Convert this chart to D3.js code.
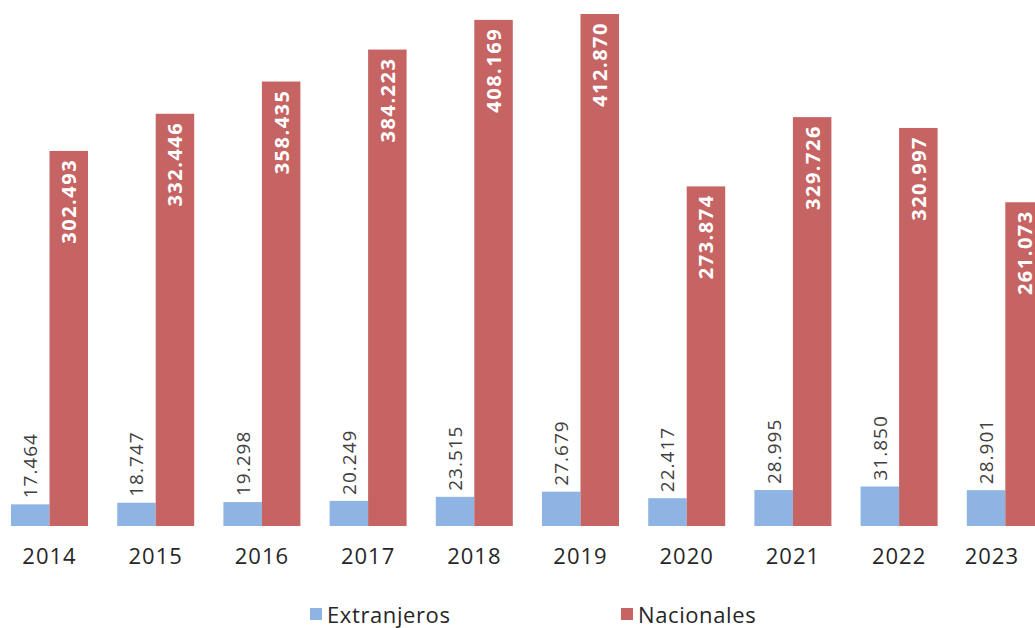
<!DOCTYPE html>
<html>
<head>
<meta charset="utf-8">
<script src="https://cdn.jsdelivr.net/npm/d3@7"></script>
<style>
  body { margin: 0; background: #fff; }
  svg { display: block; font-family: "Open Sans", sans-serif; }
</style>
</head>
<body>
<div id="chart"></div>
<script>
const years = ["2014", "2015", "2016", "2017", "2018", "2019", "2020", "2021", "2022", "2023"];
const extranjeros = [17464, 18747, 19298, 20249, 23515, 27679, 22417, 28995, 31850, 28901];
const nacionales = [302493, 332446, 358435, 384223, 408169, 412870, 273874, 329726, 320997, 261073];
const seriesNames = ["Extranjeros", "Nacionales"];
const colors = ["#8DB4E2", "#C66363"];

const width = 1035, height = 628;
const fmt = v => d3.format(",")(v).replace(/,/g, ".");

const rows = years.map((y, i) => ({year: y, values: [extranjeros[i], nacionales[i]]}));

const svg = d3.select("#chart").append("svg")
    .attr("width", width)
    .attr("height", height);

const x0 = d3.scaleBand()
    .domain(years)
    .range([-3.6, 1058.4])
    .paddingInner(0.275)
    .paddingOuter(0.1375);

const x1 = d3.scaleBand()
    .domain([0, 1])
    .range([0, x0.bandwidth()]);

const y = d3.scaleLinear()
    .domain([0, 420000])
    .range([526, 5.2]);

const group = svg.append("g")
  .selectAll("g")
  .data(rows)
  .join("g")
    .attr("transform", d => `translate(${x0(d.year)},0)`);

group.selectAll("rect")
  .data(d => d.values)
  .join("rect")
    .attr("x", (_, i) => x1(i))
    .attr("y", d => y(d))
    .attr("width", x1.bandwidth())
    .attr("height", d => y(0) - y(d))
    .attr("fill", (_, i) => colors[i]);

// extranjeros: label above the bar
group.append("text")
    .attr("transform", d => `translate(${x1(0) + x1.bandwidth() / 2},${y(d.values[0]) - 6}) rotate(-90)`)
    .attr("dominant-baseline", "central")
    .attr("text-anchor", "start")
    .attr("fill", "#404040")
    .attr("font-size", 19)
    .attr("letter-spacing", 1)
    .text(d => fmt(d.values[0]));

// nacionales: label inside the bar, at the top
group.append("text")
    .attr("transform", d => `translate(${x1(1) + x1.bandwidth() / 2},${y(d.values[1]) + 8}) rotate(-90)`)
    .attr("dominant-baseline", "central")
    .attr("text-anchor", "end")
    .attr("fill", "#fff")
    .attr("font-weight", "bold")
    .attr("font-size", 20)
    .attr("letter-spacing", 1.5)
    .text(d => fmt(d.values[1]));

const xAxis = svg.append("g")
    .attr("transform", `translate(0,${y(0)})`)
    .call(d3.axisBottom(x0).tickSize(0).tickPadding(22));
xAxis.select(".domain").remove();
xAxis.selectAll("text")
    .attr("font-size", 22)
    .attr("letter-spacing", 1)
    .attr("font-family", "Open Sans, sans-serif")
    .attr("fill", "#262626");

// keep the last year label inside the picture
xAxis.selectAll(".tick").each(function() {
  const text = d3.select(this).select("text");
  const box = this.getBBox();
  const ctm = this.getCTM();
  const right = ctm.e + box.x + box.width;
  if (right > width - 16) text.attr("x", width - 16 - right);
});

const legendX = [310, 621];
const legend = svg.append("g")
  .selectAll("g")
  .data(seriesNames)
  .join("g")
    .attr("transform", (_, i) => `translate(${legendX[i]},614)`);

legend.append("rect")
    .attr("x", 0)
    .attr("y", -6)
    .attr("width", 12)
    .attr("height", 12)
    .attr("fill", (_, i) => colors[i]);

legend.append("text")
    .attr("x", 17)
    .attr("dominant-baseline", "central")
    .attr("font-size", 22)
    .attr("letter-spacing", 0.6)
    .attr("fill", "#262626")
    .text(d => d);
</script>
</body>
</html>
